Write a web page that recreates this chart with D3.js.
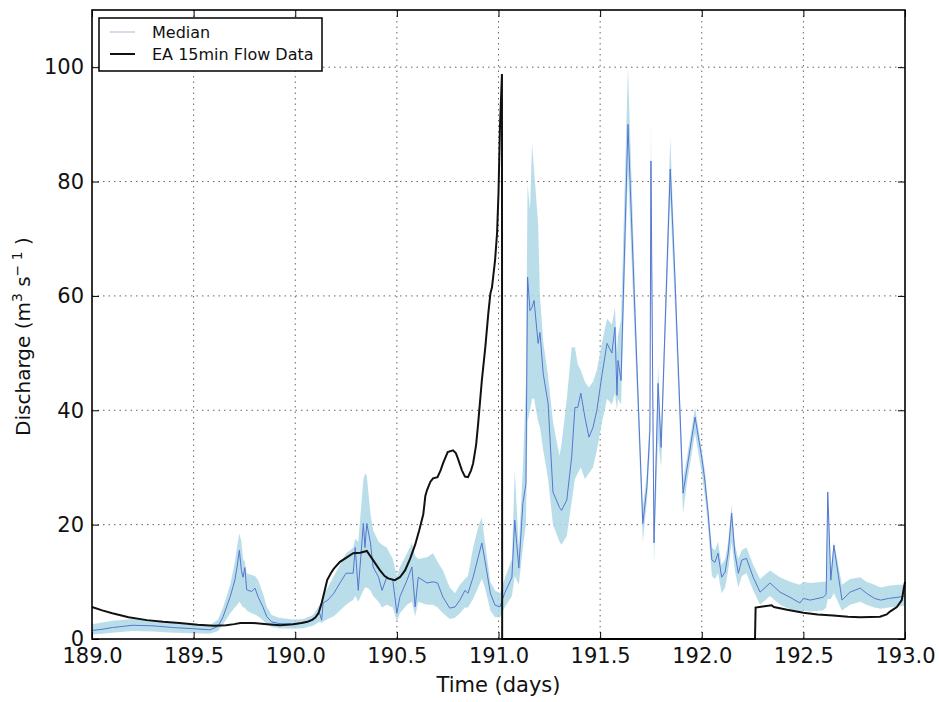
<!DOCTYPE html>
<html>
<head>
<meta charset="utf-8">
<script src="https://cdn.jsdelivr.net/npm/d3@7"></script>
<style>
  body { margin: 0; background: #fff; }
  svg { font-family: "DejaVu Sans", sans-serif; }
</style>
</head>
<body>
<div class="chart"></div>
<script>
// axis ticks
const xTicks = [189.0, 189.5, 190.0, 190.5, 191.0, 191.5, 192.0, 192.5, 193.0];
const yTicks = [0, 20, 40, 60, 80, 100];

// model ensemble: [time, median, lower, upper]
const median = [
  [189.00, 1.5, 0.8, 2.6], [189.05, 1.7, 0.9, 2.9], [189.10, 2.0, 1.1, 3.2],
  [189.20, 2.4, 1.4, 3.5], [189.30, 2.3, 1.3, 3.3], [189.40, 2.0, 1.1, 2.9],
  [189.50, 1.8, 1.0, 2.6], [189.58, 1.6, 0.9, 2.4], [189.62, 2.2, 1.4, 3.4],
  [189.645, 3.9, 2.6, 5.5], [189.68, 7.4, 4.5, 9.5], [189.703, 10.3, 5.5, 13.5],
  [189.715, 12.9, 6.0, 16.5], [189.725, 15.5, 6.5, 18.5], [189.735, 12.0, 6.0, 17.0],
  [189.743, 10.8, 5.5, 14.0], [189.752, 12.5, 5.5, 13.5], [189.761, 8.6, 5.0, 11.5],
  [189.786, 8.3, 4.5, 11.2], [189.802, 8.9, 4.3, 11.0], [189.817, 7.4, 4.0, 10.3],
  [189.841, 5.6, 3.3, 8.0], [189.86, 3.9, 2.6, 5.6], [189.884, 3.0, 2.1, 4.2],
  [189.92, 2.7, 1.9, 3.7], [189.99, 2.6, 1.8, 3.4], [190.04, 2.8, 1.9, 3.5],
  [190.087, 3.3, 2.3, 4.2], [190.12, 4.5, 3.0, 6.0], [190.13, 3.3, 2.8, 6.5],
  [190.137, 6.3, 3.0, 7.5], [190.16, 6.8, 3.5, 9.0], [190.19, 8.0, 4.0, 11.0],
  [190.22, 9.8, 5.0, 13.0], [190.25, 11.5, 6.0, 15.0], [190.27, 11.5, 6.5, 15.5],
  [190.285, 11.5, 6.8, 16.0], [190.295, 16.0, 7.5, 17.5], [190.31, 8.5, 6.5, 17.0],
  [190.335, 20.2, 8.5, 27.8], [190.343, 16.0, 9.0, 29.0], [190.352, 20.2, 9.0, 28.5],
  [190.37, 16.8, 8.5, 22.0], [190.383, 12.6, 7.5, 19.0], [190.41, 10.8, 6.5, 17.0],
  [190.427, 8.5, 5.5, 16.5], [190.45, 10.8, 6.0, 16.0], [190.48, 10.3, 5.5, 14.0],
  [190.50, 4.5, 3.0, 11.0], [190.515, 7.4, 4.5, 12.6], [190.55, 10.3, 6.0, 15.0],
  [190.574, 12.6, 6.5, 16.8], [190.59, 5.6, 4.0, 14.5], [190.605, 10.8, 6.5, 14.0],
  [190.648, 9.8, 6.0, 14.3], [190.678, 10.0, 6.0, 15.0], [190.70, 9.8, 5.5, 13.5],
  [190.727, 7.3, 4.5, 12.0], [190.76, 5.4, 3.5, 9.0], [190.786, 5.6, 3.7, 8.0],
  [190.81, 6.8, 4.5, 9.5], [190.835, 8.5, 5.5, 10.5], [190.85, 8.0, 5.5, 11.0],
  [190.875, 10.8, 7.0, 16.0], [190.90, 14.3, 9.0, 19.5], [190.918, 16.8, 10.5, 21.3],
  [190.933, 13.8, 9.0, 17.0], [190.96, 8.0, 5.0, 10.0], [190.983, 5.9, 3.8, 8.5],
  [191.007, 5.6, 3.8, 8.0], [191.03, 8.0, 5.5, 10.5], [191.066, 10.8, 7.5, 14.0],
  [191.08, 20.8, 11.0, 29.5], [191.10, 12.4, 9.5, 16.0], [191.12, 23.7, 16.0, 30.0],
  [191.135, 27.2, 20.0, 45.0], [191.143, 63.3, 38.0, 79.6], [191.155, 57.4, 40.0, 75.0],
  [191.165, 58.0, 42.0, 86.6], [191.175, 59.2, 42.0, 82.0], [191.195, 51.7, 38.0, 72.6],
  [191.204, 53.6, 37.0, 60.0], [191.22, 46.4, 33.0, 52.0], [191.244, 41.2, 28.0, 46.0],
  [191.268, 25.7, 20.0, 38.0], [191.30, 23.0, 17.0, 32.0], [191.31, 22.5, 16.5, 34.0],
  [191.336, 24.3, 18.0, 42.0], [191.36, 31.8, 24.0, 51.0], [191.376, 40.5, 28.0, 51.0],
  [191.39, 40.5, 29.0, 48.0], [191.405, 43.0, 30.0, 47.0], [191.425, 38.8, 28.0, 45.0],
  [191.445, 35.3, 29.0, 44.0], [191.465, 37.0, 30.0, 45.0], [191.484, 40.0, 33.0, 47.0],
  [191.51, 46.4, 38.0, 52.0], [191.534, 51.7, 42.0, 56.0], [191.558, 50.0, 41.0, 55.0],
  [191.573, 54.5, 43.0, 58.0], [191.583, 42.6, 40.0, 50.0], [191.588, 48.7, 42.0, 53.0],
  [191.603, 45.2, 41.0, 56.0], [191.637, 90.0, 82.0, 100.0], [191.68, 48.7, 44.0, 52.0],
  [191.71, 20.2, 17.0, 23.0], [191.73, 26.5, 24.0, 29.0], [191.745, 36.5, 33.0, 40.0],
  [191.75, 83.6, 70.0, 90.6], [191.765, 16.8, 13.3, 20.0], [191.785, 44.7, 35.0, 48.0],
  [191.80, 33.5, 30.0, 36.0], [191.845, 82.2, 77.0, 87.6], [191.868, 63.2, 58.0, 66.0],
  [191.908, 25.5, 22.0, 28.0], [191.926, 29.5, 27.0, 31.5], [191.967, 38.8, 36.0, 40.5],
  [192.0, 31.8, 29.0, 33.0], [192.015, 27.8, 25.0, 29.5], [192.03, 22.5, 20.0, 24.0],
  [192.05, 13.8, 11.0, 16.0], [192.065, 13.4, 10.5, 15.5], [192.08, 15.0, 11.5, 17.0],
  [192.098, 10.8, 8.0, 13.0], [192.115, 11.7, 9.0, 14.0], [192.13, 15.0, 12.0, 17.0],
  [192.147, 22.0, 17.0, 23.5], [192.163, 15.0, 12.0, 16.5], [192.18, 11.5, 9.0, 14.0],
  [192.197, 13.8, 11.0, 15.5], [192.22, 14.1, 11.5, 16.0], [192.253, 10.8, 8.5, 13.0],
  [192.287, 8.2, 6.0, 10.5], [192.336, 9.8, 7.5, 12.0], [192.385, 8.2, 6.0, 10.8],
  [192.434, 7.3, 5.2, 10.0], [192.483, 6.3, 4.8, 9.5], [192.50, 7.1, 5.0, 10.0],
  [192.533, 6.8, 4.8, 9.8], [192.597, 7.3, 5.0, 10.0], [192.612, 7.8, 5.5, 10.0],
  [192.62, 25.7, 7.0, 26.0], [192.635, 10.3, 7.0, 12.0], [192.65, 16.4, 8.0, 17.0],
  [192.69, 6.8, 5.0, 9.5], [192.73, 8.2, 6.0, 10.5], [192.78, 8.9, 6.5, 10.8],
  [192.81, 8.0, 6.0, 10.0], [192.85, 7.1, 5.5, 9.5], [192.88, 6.8, 5.3, 9.0],
  [192.92, 7.1, 5.5, 9.3], [192.965, 7.3, 5.7, 9.5], [193.0, 7.5, 5.8, 9.5]
];

// EA gauge flow: [time, discharge]
const flow = [
  [189.00, 5.6], [189.05, 5.0], [189.10, 4.5], [189.18, 3.8], [189.27, 3.3],
  [189.35, 3.0], [189.43, 2.8], [189.52, 2.5], [189.60, 2.3], [189.66, 2.4],
  [189.70, 2.6], [189.73, 2.8], [189.79, 2.8], [189.86, 2.6], [189.925, 2.4],
  [189.99, 2.6], [190.03, 2.8], [190.06, 3.0], [190.085, 3.4], [190.10, 3.8],
  [190.115, 4.6], [190.13, 6.3], [190.145, 8.5], [190.157, 10.3], [190.175, 11.5],
  [190.19, 12.3], [190.22, 13.5], [190.25, 14.2], [190.285, 15.0], [190.32, 15.1],
  [190.352, 15.4], [190.383, 13.8], [190.417, 12.0], [190.44, 11.0], [190.457, 10.6],
  [190.49, 10.3], [190.515, 10.8], [190.54, 12.0], [190.565, 14.0], [190.59, 16.5],
  [190.61, 19.0], [190.63, 21.8], [190.64, 25.0], [190.648, 26.0], [190.665, 27.5],
  [190.678, 28.1], [190.70, 28.3], [190.715, 29.5], [190.727, 30.7], [190.75, 32.7],
  [190.776, 33.0], [190.79, 32.5], [190.80, 31.6], [190.82, 29.5], [190.835, 28.4],
  [190.85, 28.3], [190.865, 29.5], [190.875, 30.7], [190.89, 34.0], [190.90, 37.7],
  [190.918, 45.2], [190.935, 51.0], [190.95, 57.0], [190.96, 60.4], [190.968, 61.5],
  [190.983, 66.2], [190.993, 71.0], [191.0, 78.0], [191.007, 89.4], [191.017, 98.8],
  [191.018, 0], [192.262, 0], [192.265, 5.5], [192.30, 5.7], [192.344, 5.9],
  [192.355, 5.6], [192.42, 5.1], [192.50, 4.6], [192.57, 4.3], [192.646, 4.1],
  [192.72, 3.9], [192.78, 3.8], [192.877, 3.9], [192.91, 4.3], [192.926, 4.8],
  [192.96, 5.6], [192.984, 6.8], [193.0, 10.0]
];

const width = 939, height = 702;
const margin = {top: 10, right: 34, bottom: 63, left: 92};
const w = width - margin.left - margin.right;
const h = height - margin.top - margin.bottom;

const svg = d3.select(".chart").append("svg")
  .attr("width", width)
  .attr("height", height);

const g = svg.append("g")
  .attr("transform", "translate(" + margin.left + "," + margin.top + ")");

const x = d3.scaleLinear().domain([189, 193]).range([0, w]);
const y = d3.scaleLinear().domain([0, 110]).range([h, 0]);

// grid
g.append("g").selectAll("line")
  .data(xTicks.slice(1, -1))
  .enter().append("line")
  .attr("x1", d => x(d)).attr("x2", d => x(d))
  .attr("y1", 0).attr("y2", h)
  .attr("stroke", "#666").attr("stroke-width", 1).attr("stroke-dasharray", "1.5,4");

g.append("g").selectAll("line")
  .data(yTicks.slice(1))
  .enter().append("line")
  .attr("x1", 0).attr("x2", w)
  .attr("y1", d => y(d)).attr("y2", d => y(d))
  .attr("stroke", "#666").attr("stroke-width", 1).attr("stroke-dasharray", "1.5,4");

// uncertainty band
const area = d3.area()
  .x(d => x(d[0]))
  .y0(d => y(d[2]))
  .y1(d => y(d[3]));

g.append("path")
  .datum(median)
  .attr("d", area)
  .attr("fill", "#add8e6")
  .attr("fill-opacity", 0.85)
  .attr("stroke", "none");

// median
const medLine = d3.line().x(d => x(d[0])).y(d => y(d[1]));
g.append("path")
  .datum(median)
  .attr("d", medLine)
  .attr("fill", "none")
  .attr("stroke", "#5676d0")
  .attr("stroke-width", 1);

// observed flow
const flowLine = d3.line().x(d => x(d[0])).y(d => y(d[1]));
g.append("path")
  .datum(flow)
  .attr("d", flowLine)
  .attr("fill", "none")
  .attr("stroke", "#111")
  .attr("stroke-width", 2);

// axes, ticks pointing inward
const xAxis = d3.axisBottom(x).tickValues(xTicks).tickFormat(d3.format(".1f"))
  .tickSizeInner(-7).tickSizeOuter(0).tickPadding(9);
const yAxis = d3.axisLeft(y).tickValues(yTicks)
  .tickSizeInner(-7).tickSizeOuter(0).tickPadding(8);
const xTop = d3.axisTop(x).tickValues(xTicks).tickFormat("").tickSizeInner(-7).tickSizeOuter(0);
const yRight = d3.axisRight(y).tickValues(yTicks).tickFormat("").tickSizeInner(-7).tickSizeOuter(0);

const axes = [
  g.append("g").attr("transform", "translate(0," + h + ")").call(xAxis),
  g.append("g").call(yAxis),
  g.append("g").call(xTop),
  g.append("g").attr("transform", "translate(" + w + ",0)").call(yRight)
];
axes.forEach(a => {
  a.select(".domain").remove();
  a.selectAll(".tick line").attr("stroke", "#000").attr("stroke-width", 1);
  a.selectAll(".tick text").attr("font-size", 21).attr("font-family", "DejaVu Sans").attr("fill", "#111");
});

// frame
g.append("rect")
  .attr("width", w).attr("height", h)
  .attr("fill", "none").attr("stroke", "#000").attr("stroke-width", 1.6);

// axis labels
svg.append("text")
  .attr("x", margin.left + w / 2)
  .attr("y", 692)
  .attr("text-anchor", "middle")
  .attr("font-size", 21)
  .attr("fill", "#111")
  .text("Time (days)");

const yl = svg.append("text")
  .attr("transform", "translate(30," + (margin.top + h / 2 + 12) + ") rotate(-90)")
  .attr("text-anchor", "middle")
  .attr("font-size", 20)
  .attr("fill", "#111");
yl.append("tspan").text("Discharge (m");
yl.append("tspan").attr("dy", -8).attr("font-size", 14).text("3");
yl.append("tspan").attr("dy", 8).text("  s");
yl.append("tspan").attr("dy", -8).attr("font-size", 14).text("\u2212 1");
yl.append("tspan").attr("dy", 8).text(" )");

// legend
const legend = svg.append("g").attr("transform", "translate(99,18)");
legend.append("rect")
  .attr("width", 223).attr("height", 53)
  .attr("fill", "#fff").attr("stroke", "#000").attr("stroke-width", 1.5);
const legendItems = [
  {label: "Median", color: "#aab7d6", width: 1},
  {label: "EA 15min Flow Data", color: "#111", width: 2}
];
legendItems.forEach((item, i) => {
  const yy = 14 + i * 22;
  legend.append("line")
    .attr("x1", 11).attr("x2", 36).attr("y1", yy).attr("y2", yy)
    .attr("stroke", item.color).attr("stroke-width", item.width);
  legend.append("text")
    .attr("x", 53).attr("y", yy + 6)
    .attr("font-size", 16)
    .attr("fill", "#111")
    .text(item.label);
});
</script>
</body>
</html>
